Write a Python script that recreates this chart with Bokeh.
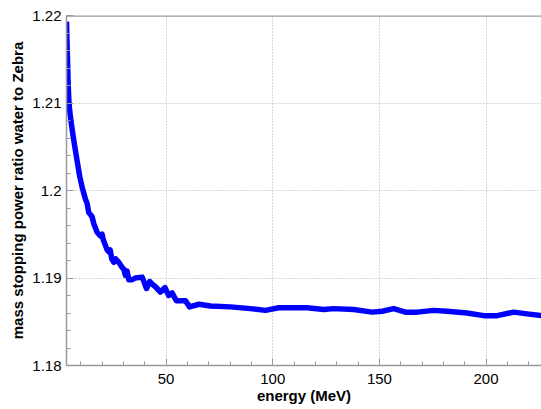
from bokeh.plotting import figure
from bokeh.models import FixedTicker, CustomJSTickFormatter, Range1d, Span
from bokeh.embed import file_html
from bokeh.resources import INLINE

energy = [3.3, 3.7, 4.1, 4.5, 5.0, 5.6, 6.3, 7.0, 8.2, 9.5, 10.6, 12.2,
          13.0, 13.7, 15.3, 16.1, 17.7, 19.2, 20.0, 20.5, 21.6, 22.4,
          23.1, 23.8, 24.5, 25.5, 26.3, 27.8, 29.4, 30.2, 30.9, 31.7,
          32.5, 34.1, 35.5, 38.8, 40.8, 42.3, 43.5, 45.0, 47.3, 49.5,
          51.2, 52.8, 54.8, 59.1, 61.0, 65.5, 70.8, 80.2, 89.5, 96.6,
          102.8, 116.1, 123.9, 128.6, 138.0, 146.6, 151.3, 156.7, 162.2, 167.7,
          175.5, 181.7, 191.1, 198.9, 205.2, 213.0, 219.2, 226.0]
ratio = [1.2193, 1.2155, 1.2120, 1.2098, 1.2087, 1.2076, 1.2064, 1.2053, 1.2035, 1.2016, 1.2004, 1.1990,
         1.1985, 1.1975, 1.1970, 1.1962, 1.1952, 1.1948, 1.1950, 1.1944, 1.1937, 1.1932,
         1.1930, 1.1932, 1.1922, 1.1918, 1.1922, 1.1918, 1.1912, 1.1910, 1.1903, 1.1908,
         1.1898, 1.1898, 1.1900, 1.1901, 1.1888, 1.1896, 1.1893, 1.1890, 1.1884, 1.1889,
         1.1880, 1.1883, 1.1874, 1.1874, 1.1867, 1.1870, 1.1868, 1.1867, 1.1865, 1.1863,
         1.1866, 1.1866, 1.1864, 1.1865, 1.1864, 1.1861, 1.1862, 1.1865, 1.1861, 1.1861,
         1.1863, 1.1862, 1.1860, 1.1857, 1.1857, 1.1861, 1.1859, 1.1857]

x_ticks = [50, 100, 150, 200]
x_minor = [10, 20, 30, 40, 60, 70, 80, 90, 110, 120, 130, 140, 160, 170, 180, 190, 210, 220]
y_ticks = [1.18, 1.19, 1.2, 1.21, 1.22]
y_minor = [1.182, 1.184, 1.186, 1.188, 1.192, 1.194, 1.196, 1.198,
           1.202, 1.204, 1.206, 1.208, 1.212, 1.214, 1.216, 1.218]

FONT = "Liberation Sans"
AXC = "#999999"

p = figure(width=541, height=409, output_backend="svg", toolbar_location=None,
           x_range=Range1d(3.3, 226), y_range=Range1d(1.18, 1.22),
           min_border_left=66, min_border_right=0, min_border_top=15, min_border_bottom=44)
p.outline_line_color = None
p.background_fill_color = "white"

xt = FixedTicker(ticks=x_ticks, minor_ticks=x_minor)
yt = FixedTicker(ticks=y_ticks, minor_ticks=y_minor)

for ax, t in ((p.xaxis[0], xt), (p.yaxis[0], yt)):
    ax.ticker = t
    ax.axis_line_color = AXC
    ax.axis_line_width = 1.5
    ax.major_tick_line_color = AXC
    ax.minor_tick_line_color = AXC
    ax.major_tick_in = 7
    ax.major_tick_out = 0
    ax.minor_tick_in = 4
    ax.minor_tick_out = 0
    ax.major_label_text_font = FONT
    ax.major_label_text_font_size = "15px"
    ax.major_label_text_color = "black"
    ax.axis_label_text_font = FONT
    ax.axis_label_text_font_size = "15px"
    ax.axis_label_text_font_style = "bold"
    ax.axis_label_text_color = "black"

p.yaxis[0].formatter = CustomJSTickFormatter(code="return (Math.round(tick*100)/100).toString();")
p.xaxis.axis_label = "energy (MeV)"
p.yaxis.axis_label = "mass stopping power ratio water to Zebra"
p.xaxis.major_label_standoff = 8
p.xaxis.axis_label_standoff = 0
p.yaxis.major_label_standoff = 5
p.yaxis.axis_label_standoff = 3

# top frame line
p.add_layout(Span(location=1.22, dimension="width", line_color=AXC, line_width=2.5))

p.xgrid.ticker = xt
p.ygrid.ticker = yt
for g in (p.xgrid[0], p.ygrid[0]):
    g.grid_line_color = "#b0b0b0"
    g.grid_line_dash = "1 2"
    g.grid_line_width = 1

p.line(energy, ratio, line_color="#0000ff", line_width=5.5, line_join="round")

open("out.html", "w").write(file_html(p, INLINE))
